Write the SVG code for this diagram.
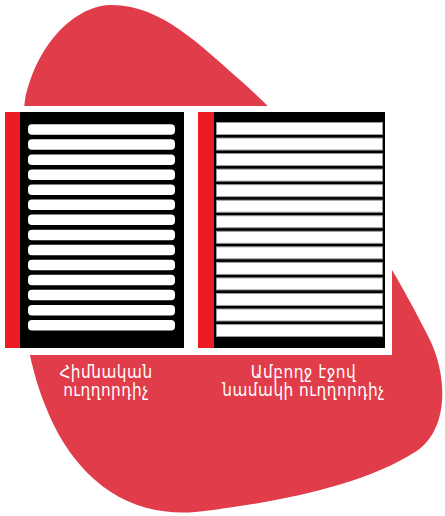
<svg xmlns="http://www.w3.org/2000/svg" width="445" height="516" viewBox="0 0 445 516">
<style>
.blob{fill:#e03c4a}
.panel{fill:#ffffff}
.bg{fill:#000000}
.red{fill:#ed1c24}
.lb{fill:#ffffff}
.rb{fill:#ffffff;stroke:#9a9a9a;stroke-width:1}
.lbl{font-family:"DejaVu Sans Condensed","DejaVu Sans",sans-serif;font-stretch:condensed;font-size:17px;letter-spacing:0.5px;fill:#ffffff;text-anchor:middle}
</style>
<rect width="445" height="516" fill="#ffffff"/>
<path class="blob" d="M110 5 C160 4 200 45 240 80 C330 160 390 260 430 340 C447 375 450 430 415 452 C360 488 260 505 195 512 C120 518 70 470 45 405 C15 330 10 210 25 100 C35 50 70 7 110 5 Z"/>
<rect class="panel" x="0" y="106" width="392" height="249"/>
<g id="basic-ruler">
<rect class="bg" x="5" y="112" width="179" height="236"/>
<rect class="red" x="5" y="112" width="15" height="236"/>
<rect class="lb" x="28" y="124.3" width="147" height="10.5" rx="4"/>
<rect class="lb" x="28" y="139.35" width="147" height="10.5" rx="4"/>
<rect class="lb" x="28" y="154.4" width="147" height="10.5" rx="4"/>
<rect class="lb" x="28" y="169.45" width="147" height="10.5" rx="4"/>
<rect class="lb" x="28" y="184.5" width="147" height="10.5" rx="4"/>
<rect class="lb" x="28" y="199.55" width="147" height="10.5" rx="4"/>
<rect class="lb" x="28" y="214.6" width="147" height="10.5" rx="4"/>
<rect class="lb" x="28" y="229.65" width="147" height="10.5" rx="4"/>
<rect class="lb" x="28" y="244.7" width="147" height="10.5" rx="4"/>
<rect class="lb" x="28" y="259.75" width="147" height="10.5" rx="4"/>
<rect class="lb" x="28" y="274.8" width="147" height="10.5" rx="4"/>
<rect class="lb" x="28" y="289.85" width="147" height="10.5" rx="4"/>
<rect class="lb" x="28" y="304.9" width="147" height="10.5" rx="4"/>
<rect class="lb" x="28" y="319.95" width="147" height="10.5" rx="4"/>
<text class="lbl"><tspan x="106" y="377.5">Հիմնական</tspan><tspan x="106" y="396">ուղղորդիչ</tspan></text>
</g>
<g id="full-page-ruler">
<rect class="bg" x="198" y="112" width="187" height="236"/>
<rect class="red" x="198" y="112" width="16" height="236"/>
<rect class="rb" x="216.5" y="122.5" width="166" height="12"/>
<rect class="rb" x="216.5" y="138.04" width="166" height="12"/>
<rect class="rb" x="216.5" y="153.58" width="166" height="12"/>
<rect class="rb" x="216.5" y="169.12" width="166" height="12"/>
<rect class="rb" x="216.5" y="184.66" width="166" height="12"/>
<rect class="rb" x="216.5" y="200.2" width="166" height="12"/>
<rect class="rb" x="216.5" y="215.74" width="166" height="12"/>
<rect class="rb" x="216.5" y="231.28" width="166" height="12"/>
<rect class="rb" x="216.5" y="246.82" width="166" height="12"/>
<rect class="rb" x="216.5" y="262.36" width="166" height="12"/>
<rect class="rb" x="216.5" y="277.9" width="166" height="12"/>
<rect class="rb" x="216.5" y="293.44" width="166" height="12"/>
<rect class="rb" x="216.5" y="308.98" width="166" height="12"/>
<rect class="rb" x="216.5" y="324.52" width="166" height="12"/>
<text class="lbl"><tspan x="303.5" y="377.5">Ամբողջ էջով</tspan><tspan x="303.5" y="396">նամակի ուղղորդիչ</tspan></text>
</g>
<g id="connectors"/>
</svg>
